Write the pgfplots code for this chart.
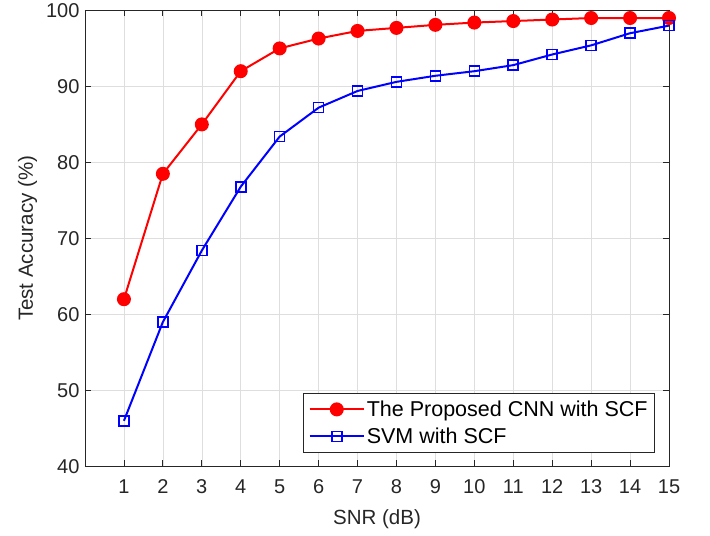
\documentclass[border=0pt]{standalone}
\usepackage{fontspec}
\setmainfont{Liberation Sans}
\usepackage{pgfplots}
\pgfplotsset{compat=1.18}
\definecolor{axgray}{RGB}{38,38,38}
\definecolor{mred}{RGB}{255,0,0}
\definecolor{mblue}{RGB}{0,0,255}

\begin{document}
\begin{tikzpicture}
\path (-85pt,-69pt) rectangle (625pt,466pt);
\begin{axis}[
    at={(0,0)}, anchor=south west, scale only axis,
    width=584pt, height=456pt,
    xmin=0, xmax=15, ymin=40, ymax=100,
    xtick={1,...,15}, ytick={40,50,...,100},
    grid=major, grid style={black!13, line width=0.6pt},
    axis line style={axgray, line width=0.8pt},
    tick style={axgray, line width=0.8pt}, tick align=inside,
    major tick length=6pt,
    ticklabel style={font=\fontsize{20}{22}\selectfont, text=axgray},
    xticklabel style={yshift=-10pt},
    yticklabel style={xshift=-2pt},
    /pgf/number format/assume math mode=true,
    xlabel={SNR (dB)}, ylabel={Test Accuracy (\%)},
    label style={font=\fontsize{20.5}{22}\selectfont, text=axgray},
    xlabel style={at={(rel axis cs:0.5,0)}, anchor=base, yshift=-58pt},
    ylabel style={at={(rel axis cs:0,0.5)}, anchor=base, yshift=52pt},
    legend cell align=left,
    legend style={at={(1,0)}, anchor=south east, xshift=-14pt, yshift=14pt,
        draw=axgray, line width=0.8pt, font=\fontsize{21.5}{24}\selectfont,
        inner xsep=5pt, inner ysep=5pt, row sep=6pt},
    legend image code/.code={
        \draw[mark repeat=2, mark phase=2, #1] plot coordinates {(0cm,0cm) (0.95cm,0cm) (1.9cm,0cm)};
    },
]
\addplot[mred, line width=2pt, mark=*, mark size=6pt] coordinates {
    (1,62) (2,78.5) (3,85) (4,92) (5,95) (6,96.3) (7,97.3) (8,97.7)
    (9,98.1) (10,98.4) (11,98.6) (12,98.8) (13,99) (14,99) (15,99)
};
\addlegendentry{The Proposed CNN with SCF}
\addplot[mblue, line width=2pt, mark=square, mark size=5pt, mark options={line width=1.6pt}] coordinates {
    (1,46) (2,59) (3,68.4) (4,76.8) (5,83.4) (6,87.2) (7,89.4) (8,90.6)
    (9,91.4) (10,92) (11,92.8) (12,94.2) (13,95.4) (14,97) (15,98)
};
\addlegendentry{SVM with SCF}
\end{axis}
\end{tikzpicture}
\end{document}
